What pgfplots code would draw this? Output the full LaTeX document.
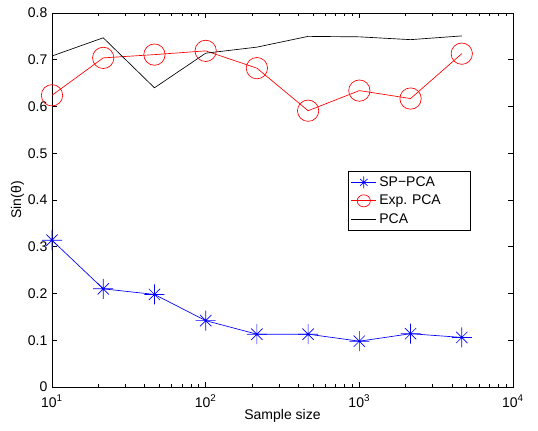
\documentclass[border=0pt]{standalone}
\usepackage{fontspec}
\setmainfont{Liberation Sans}
\usepackage{pgfplots}
\pgfplotsset{compat=1.18}
% MATLAB-style eight-armed star
\pgfdeclareplotmark{star8}{%
  \pgfpathmoveto{\pgfqpoint{0pt}{\pgfplotmarksize}}%
  \pgfpathlineto{\pgfqpoint{0pt}{-\pgfplotmarksize}}%
  \pgfpathmoveto{\pgfqpoint{\pgfplotmarksize}{0pt}}%
  \pgfpathlineto{\pgfqpoint{-\pgfplotmarksize}{0pt}}%
  \pgfpathmoveto{\pgfqpointpolar{45}{0.8\pgfplotmarksize}}%
  \pgfpathlineto{\pgfqpointpolar{225}{0.8\pgfplotmarksize}}%
  \pgfpathmoveto{\pgfqpointpolar{135}{0.8\pgfplotmarksize}}%
  \pgfpathlineto{\pgfqpointpolar{315}{0.8\pgfplotmarksize}}%
  \pgfusepathqstroke}
\begin{document}
\begin{tikzpicture}
\useasboundingbox (-39pt,-33pt) rectangle (364.5pt,290.25pt);
\begin{axis}[
  at={(0,0)}, anchor=south west,
  scale only axis,
  width=345.75pt, height=280.5pt,
  xmode=log,
  xmin=10, xmax=10000,
  ymin=0, ymax=0.8,
  xtick={10,100,1000,10000},
  xticklabels={10\textsuperscript{1},10\textsuperscript{2},10\textsuperscript{3},10\textsuperscript{4}},
  ytick={0,0.1,0.2,0.3,0.4,0.5,0.6,0.7,0.8},
  yticklabel style={/pgf/number format/fixed},
  xticklabel style={yshift=-2.5pt},
  /pgf/number format/assume math mode=true,
  tick align=inside,
  major tick length=4pt,
  minor tick length=2.5pt,
  tick style={black, line width=0.4pt},
  axis line style={line width=0.5pt},
  tick label style={font=\fontsize{10.5}{12}\selectfont},
  label style={font=\fontsize{10.5}{12}\selectfont},
  xlabel={Sample size},
  ylabel={Sin(θ)},
  xlabel style={yshift=5pt},
  ylabel style={yshift=-4pt},
  legend style={at={(rel axis cs:0.642,0.578)}, anchor=north west,
    font=\fontsize{10.5}{12}\selectfont, draw=black, line width=0.5pt,
    inner xsep=2pt, inner ysep=2pt, row sep=1pt, cells={anchor=west},
    text width=64pt},
  legend cell align=left,
  legend image post style={mark size=4.5pt, xscale=1.1},
]
\addplot[color=blue, line width=0.5pt, mark=star8, mark size=7.5pt,
  mark options={line width=0.5pt}] coordinates {
  (10,0.314) (21.544,0.210) (46.416,0.198) (100,0.142) (215.44,0.113)
  (464.16,0.113) (1000,0.098) (2154.4,0.114) (4641.6,0.106)};
\addlegendentry{SP\textminus PCA}
\addplot[color=red, line width=0.5pt, mark=o, mark size=8pt,
  mark options={line width=0.5pt}] coordinates {
  (10,0.624) (21.544,0.704) (46.416,0.711) (100,0.719) (215.44,0.682)
  (464.16,0.591) (1000,0.634) (2154.4,0.617) (4641.6,0.713)};
\addlegendentry{Exp.\ PCA}
\addplot[color=black, line width=0.5pt] coordinates {
  (10,0.708) (21.544,0.747) (46.416,0.640) (100,0.714) (215.44,0.727)
  (464.16,0.750) (1000,0.749) (2154.4,0.743) (4641.6,0.751)};
\addlegendentry{PCA}
\end{axis}
\end{tikzpicture}
\end{document}
